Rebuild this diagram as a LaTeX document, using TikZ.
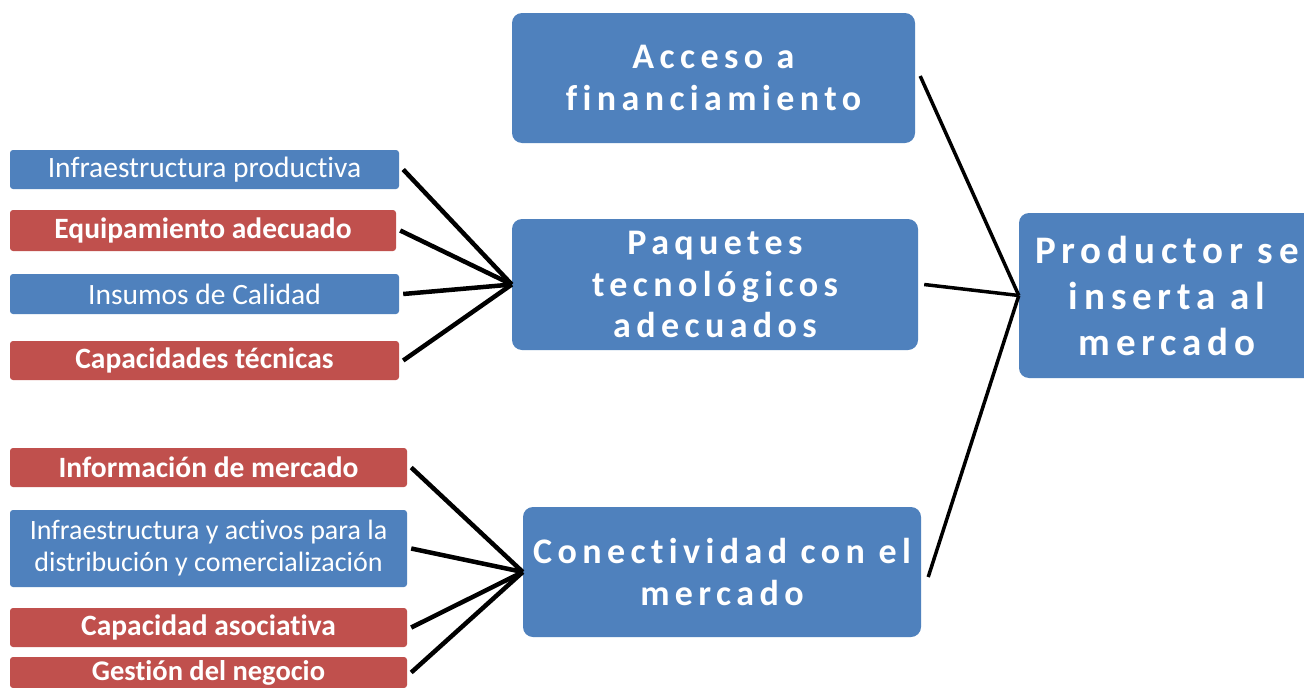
\documentclass[tikz,border=0pt]{standalone}
\usepackage{fontspec}
\setmainfont[RawFeature=-liga]{Carlito}
\newfontfamily\bigfont[LetterSpace=15,RawFeature=-liga]{Carlito}
\definecolor{bblue}{HTML}{4F81BD}
\definecolor{bred}{HTML}{C0504D}
\begin{document}
\begin{tikzpicture}[x=1pt,y=-1pt,
  small/.style={rectangle, rounded corners=3pt, inner sep=0pt, text=white, align=center,
     font=\fontsize{29.5}{32}\selectfont},
  sblue/.style={small, fill=bblue},
  sred/.style={small, fill=bred, font=\fontsize{29.5}{32}\selectfont\bfseries},
  big/.style={rectangle, rounded corners=10pt, fill=bblue, inner sep=0pt, text=white, align=center,
     font=\bigfont\fontsize{36}{41.5}\selectfont\bfseries},
  conn/.style={line width=4.5pt, black},
  conr/.style={line width=3.5pt, black}]
\clip (0,0) rectangle (1304,688);
\fill[white] (0,0) rectangle (1304,688);
% big boxes
\node[big, minimum width=403pt, minimum height=130pt] (acc) at (713.5,78) {Acceso a\\financiamiento};
\node[big, minimum width=406pt, minimum height=131pt] (paq) at (715,284.5) {Paquetes\\tecnológicos\\adecuados};
\node[big, minimum width=398pt, minimum height=130pt] (con) at (722,572) {Conectividad con el\\mercado};
\node[big, minimum width=296pt, minimum height=165pt, font=\bigfont\fontsize{39}{46}\selectfont\bfseries] (pro) at (1167,295.5) {Productor se\\inserta al\\mercado};
% upper small boxes
\node[sblue, minimum width=389pt, minimum height=39pt] (b1) at (204.5,169.5) {Infraestructura productiva};
\node[sred, minimum width=386pt, minimum height=41pt] (b2) at (203,230.5) {Equipamiento adecuado};
\node[sblue, minimum width=389pt, minimum height=40pt] (b3) at (204.5,294) {Insumos de Calidad};
\node[sred, minimum width=389pt, minimum height=39pt] (b4) at (204.5,360.5) {Capacidades técnicas};
% lower small boxes
\node[sred, minimum width=397pt, minimum height=39pt] (c1) at (208.5,467.5) {Información de mercado};
\node[sblue, minimum width=397pt, minimum height=77pt, font=\fontsize{28}{32}\selectfont] (c2) at (208.5,548.5) {Infraestructura y activos para la\\distribución y comercialización};
\node[sred, minimum width=397pt, minimum height=31pt, font=\fontsize{28.5}{30}\selectfont\bfseries] (c4) at (208.5,672.5) {Gestión del negocio};
\node[sred, minimum width=397pt, minimum height=39pt] (c3) at (208.5,627.5) {Capacidad asociativa};
% connectors
\foreach \n in {b1,b2,b3,b4}
  \draw[conn] ([xshift=4pt]\n.east) -- (paq.west);
\foreach \n in {c1,c2,c3,c4}
  \draw[conn] ([xshift=4pt]\n.east) -- (con.west);
\draw[conr] ([xshift=5pt,yshift=2pt]acc.east) -- (pro.west);
\draw[conr] ([xshift=6pt]paq.east) -- (pro.west);
\draw[conr] ([xshift=7pt,yshift=-5pt]con.east) -- (pro.west);
\end{tikzpicture}
\end{document}
